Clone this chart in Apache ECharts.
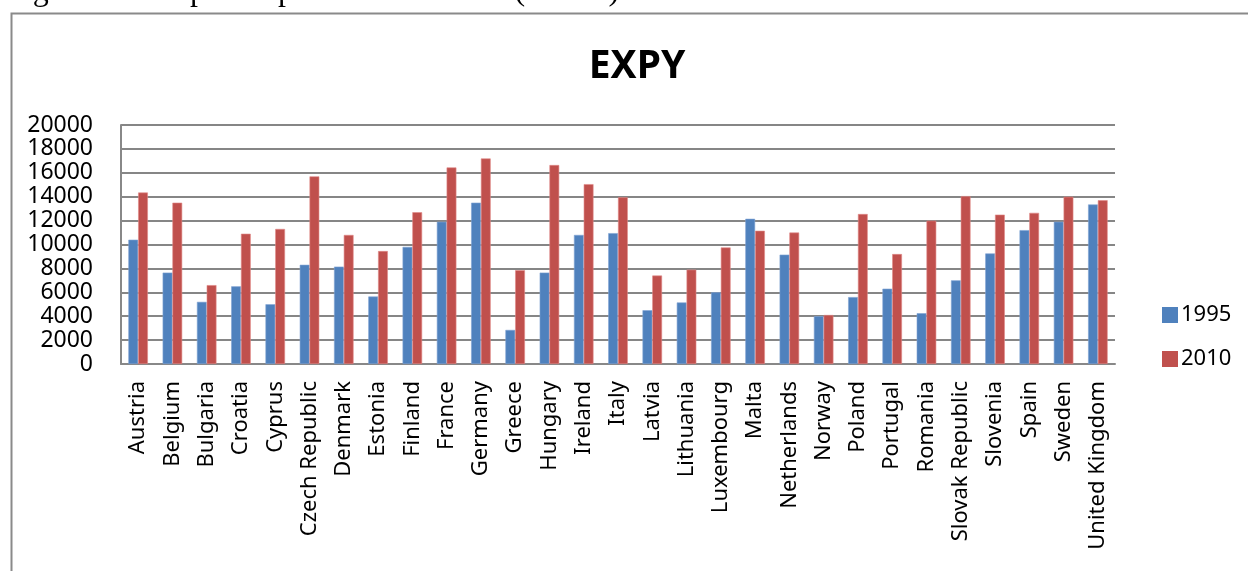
<!DOCTYPE html>
<html>
<head>
<meta charset="utf-8">
<script src="https://cdn.jsdelivr.net/npm/echarts@6/dist/echarts.min.js"></script>
<style>
html,body{margin:0;padding:0;background:#fff;}
#c{width:1248px;height:571px;}
</style>
</head>
<body>
<div id="c"></div>
<script>
const categories = ["Austria","Belgium","Bulgaria","Croatia","Cyprus","Czech Republic","Denmark","Estonia","Finland","France","Germany","Greece","Hungary","Ireland","Italy","Latvia","Lithuania","Luxembourg","Malta","Netherlands","Norway","Poland","Portugal","Romania","Slovak Republic","Slovenia","Spain","Sweden","United Kingdom"];
const values1995 = [10400,7650,5200,6500,5000,8300,8150,5650,9800,11900,13500,2850,7650,10800,10950,4500,5150,6000,12150,9150,4000,5600,6300,4250,7000,9250,11200,11900,13350];
const values2010 = [14350,13500,6600,10900,11300,15700,10800,9450,12700,16450,17200,7850,16650,15050,13950,7400,7900,9750,11150,11000,4100,12550,9200,12000,14050,12500,12650,14000,13700];
const yTicks = [0,2000,4000,6000,8000,10000,12000,14000,16000,18000,20000];
const seriesNames = ["1995","2010"];
const chartTitle = "EXPY";
const caption = "Figure 3.2: Export sophistication index (EXPY)";

const FONT = "'Noto Sans', 'Open Sans', sans-serif";
const chart = echarts.init(document.getElementById('c'), null, {renderer:'canvas'});
chart.setOption({
  animation:false,
  backgroundColor:'#fff',
  title:{
    text: chartTitle,
    left: 632, top: 42, textAlign:'center',
    textStyle:{fontFamily:FONT, fontSize:39, fontWeight:'bold', color:'#000'}
  },
  graphic:[
    {type:'rect', shape:{x:11.5, y:13.5, width:1300, height:700},
     style:{fill:'none', stroke:'#8a8a8a', lineWidth:2}, z:-1},
    {type:'text', x:6, y:8,
     style:{text: caption, font:"32px 'Liberation Serif', 'Times New Roman', serif", fill:'#000', verticalAlign:'bottom', align:'left'}}
  ],
  legend:{
    orient:'vertical', left:1157, top:299,
    itemWidth:16, itemHeight:16, itemGap:22,
    icon:'rect',
    itemStyle:{borderWidth:0},
    textStyle:{fontFamily:FONT, fontSize:22, color:'#000', padding:[0,0,0,-2]},
    data: seriesNames
  },
  grid:{left:121, top:125, right:133, bottom:207, containLabel:false},
  xAxis:{
    type:'category', data:categories,
    axisLine:{show:true, lineStyle:{color:'#888', width:2}},
    axisTick:{show:false},
    axisLabel:{rotate:90, interval:0, margin:17, fontFamily:FONT, fontSize:22, color:'#000'}
  },
  yAxis:{
    type:'value', min:yTicks[0], max:yTicks[yTicks.length-1], interval:2000,
    axisLine:{show:true, lineStyle:{color:'#888', width:2}},
    axisTick:{show:false},
    splitLine:{show:true, lineStyle:{color:'#868686', width:2}},
    axisLabel:{margin:28, fontFamily:FONT, fontSize:23, color:'#000', formatter: v => String(v)}
  },
  series:[
    {name:seriesNames[0], type:'bar', data:values1995, barGap:'0%', barCategoryGap:'43%',
     itemStyle:{color:'#4F81BD', borderColor:'#7fa3d3', borderWidth:0.6}},
    {name:seriesNames[1], type:'bar', data:values2010, barGap:'0%', barCategoryGap:'43%',
     itemStyle:{color:'#C0504D', borderColor:'#e08a88', borderWidth:0.6}}
  ]
});
</script>
</body>
</html>
